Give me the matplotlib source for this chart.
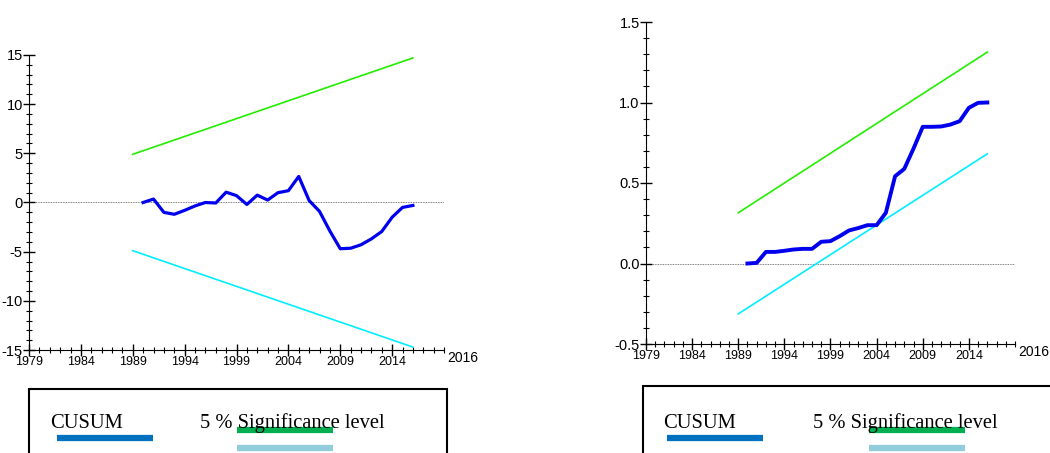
import matplotlib
matplotlib.use("Agg")
import matplotlib.pyplot as plt
from matplotlib.lines import Line2D
from matplotlib.ticker import MultipleLocator

# data
years = list(range(1990, 2017))
cusum = [0.0, 0.35, -1.0, -1.2, -0.8, -0.35, 0.0, -0.05, 1.05, 0.7, -0.2, 0.75, 0.25, 1.0,
         1.2, 2.65, 0.2, -0.9, -2.9, -4.7, -4.65, -4.3, -3.7, -2.95, -1.5, -0.5, -0.3]
cusumsq = [0.0, 0.004, 0.072, 0.072, 0.079, 0.087, 0.091, 0.091, 0.135, 0.139, 0.17, 0.205,
           0.22, 0.238, 0.238, 0.315, 0.542, 0.588, 0.714, 0.849, 0.849, 0.851, 0.863, 0.884,
           0.967, 0.998, 1.0]
bound_years = [1989, 2016]
cusum_upper = [4.9, 14.7]
cusum_lower = [-4.9, -14.7]
sq_upper = [0.315, 1.313]
sq_lower = [-0.313, 0.681]
xticks = [1979, 1984, 1989, 1994, 1999, 2004, 2009, 2014]

tick_font = 'Liberation Sans'
W, H = 1050, 453

fig = plt.figure(figsize=(10.5, 4.53), dpi=100)

def px(x0, y_top, x1, y_bot):
    return [x0 / W, 1 - y_bot / H, (x1 - x0) / W, (y_bot - y_top) / H]

def style_axes(ax, ylim, major, minor, fmt):
    ax.set_xlim(1979, 2019)
    ax.set_ylim(*ylim)
    for s in ("top", "right"):
        ax.spines[s].set_visible(False)
    ax.set_xticks(xticks)
    ax.xaxis.set_minor_locator(MultipleLocator(1))
    ax.yaxis.set_major_locator(MultipleLocator(major))
    ax.yaxis.set_minor_locator(MultipleLocator(minor))
    ax.yaxis.set_major_formatter(plt.FuncFormatter(lambda v, p: fmt.format(v)))
    ax.tick_params(axis="both", which="major", direction="inout", length=9, width=1, pad=0)
    ax.tick_params(axis="both", which="minor", direction="inout", length=5, width=0.8)
    for lab in ax.get_xticklabels():
        lab.set_family(tick_font)
        lab.set_fontsize(9)
    for lab in ax.get_yticklabels():
        lab.set_family(tick_font)
        lab.set_fontsize(10.5)
    ax.annotate("2016", xy=(2019, ylim[0]), xytext=(2, -1), textcoords="offset points",
                ha="left", va="top", fontsize=10, family=tick_font)
    ax.axhline(0, color="#555555", lw=0.6, ls=(0, (1, 1)), zorder=1)

# left: CUSUM
ax1 = fig.add_axes(px(29, 55, 444, 350))
ax1.plot(bound_years, cusum_upper, color="#22ee00", lw=1.2)
ax1.plot(bound_years, cusum_lower, color="#00eeff", lw=1.2)
ax1.plot(years, cusum, color="#0000ee", lw=2.3, zorder=3)
style_axes(ax1, (-15, 15), 5, 1, "{:g}")

# right: CUSUM of squares
ax2 = fig.add_axes(px(646, 22, 1015, 344))
ax2.plot(bound_years, sq_upper, color="#22ee00", lw=1.2)
ax2.plot(bound_years, sq_lower, color="#00eeff", lw=1.2)
ax2.plot(years, cusumsq, color="#0000ee", lw=2.8, zorder=3)
style_axes(ax2, (-0.5, 1.5), 0.5, 0.1, "{:.1f}")

# legend boxes
def legend_box(x0, x1, y_top, txt1_x, txt2_x, bar1, bar2):
    box = plt.Rectangle((x0 / W, -0.1), (x1 - x0) / W, 1 - y_top / H + 0.1,
                        transform=fig.transFigure, fill=False, ec="black", lw=1.5)
    fig.add_artist(box)
    fig.text(txt1_x / W, 1 - 428 / H, "CUSUM", family="Liberation Serif", fontsize=14.8,
             va="baseline")
    fig.text(txt2_x / W, 1 - 428 / H, "5 % Significance level", family="Liberation Serif",
             fontsize=14.8, va="baseline")
    fig.add_artist(Line2D([bar1[0] / W, bar1[1] / W], [1 - 438 / H] * 2,
                          transform=fig.transFigure, color="#0070c0", lw=4.5,
                          solid_capstyle="butt"))
    fig.add_artist(Line2D([bar2[0] / W, bar2[1] / W], [1 - 430 / H] * 2,
                          transform=fig.transFigure, color="#00b050", lw=4.5,
                          solid_capstyle="butt"))
    fig.add_artist(Line2D([bar2[0] / W, bar2[1] / W], [1 - 448 / H] * 2,
                          transform=fig.transFigure, color="#92cddc", lw=4.5,
                          solid_capstyle="butt"))

legend_box(29, 447, 389, 50, 200, (57, 153), (237, 333))
legend_box(643, 1052, 386, 663, 813, (667, 763), (869, 965))

fig.savefig("out.png", dpi=100)
